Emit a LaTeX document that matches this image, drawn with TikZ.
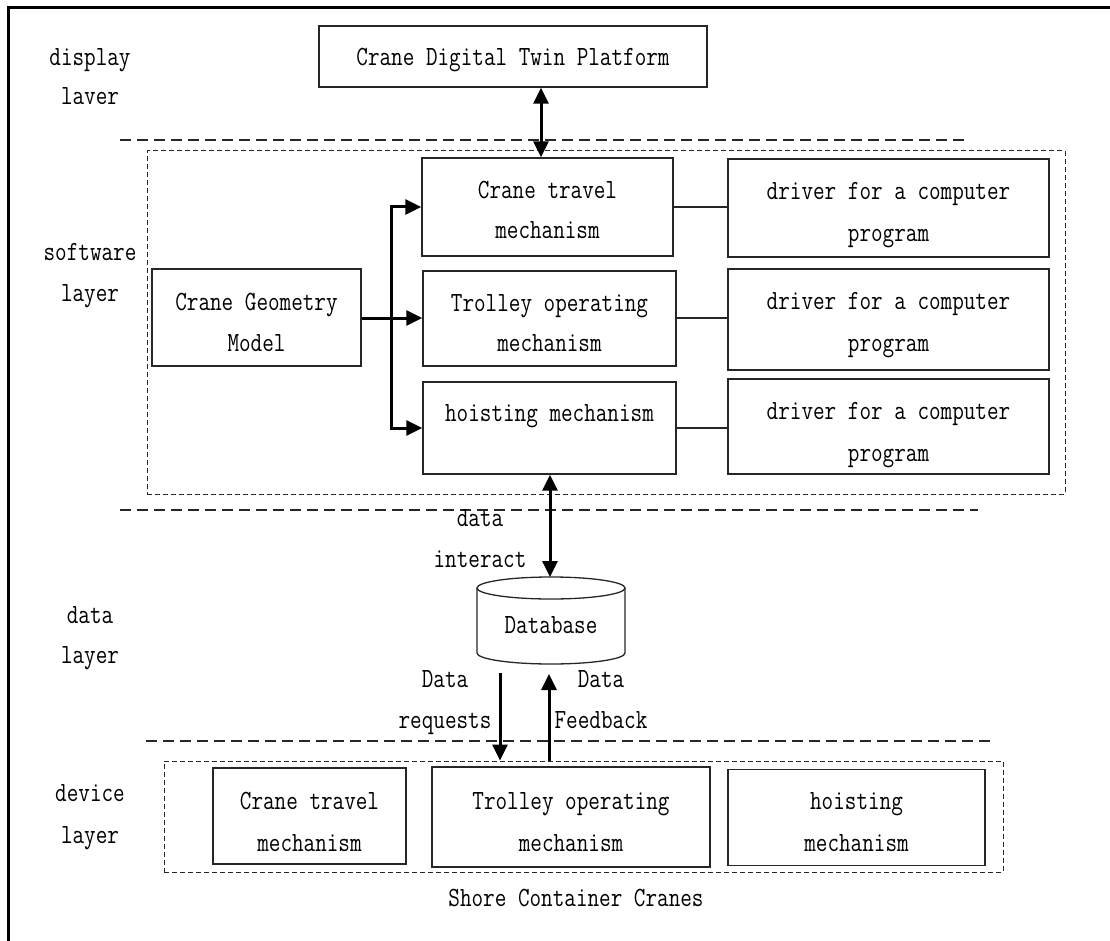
\documentclass[tikz,border=0pt]{standalone}
\usepackage{fontspec}
\setmonofont{Latin Modern Mono}[FakeStretch=0.81]
\usetikzlibrary{arrows.meta}
\begin{document}
\begin{tikzpicture}[x=1pt,y=-1pt,
  box/.style={draw=black!85, line width=1.4pt, rectangle, inner sep=0pt},
  grp/.style={draw=black!85, line width=1pt, dash pattern=on 5pt off 3pt, rectangle, inner sep=0pt},
  sep/.style={draw=black!85, line width=1.3pt, dash pattern=on 11pt off 6pt},
  txt/.style={anchor=base, inner sep=0pt, font=\ttfamily\fontsize{27.8}{30}\selectfont},
  link/.style={draw=black!85, line width=1.2pt},
  arr/.style={line width=3pt, -{Triangle[length=16pt,width=15pt]}},
  barr/.style={line width=3pt, {Triangle[length=16pt,width=15pt]}-{Triangle[length=16pt,width=15pt]}}
]
\useasboundingbox (0,0) rectangle (1110,941);
% outer frame
\draw[line width=2.4pt] (8.5,941) -- (8.5,7.5) -- (1110,7.5);

% separators
\draw[sep] (120,140) -- (967,140);
\draw[sep] (120,510) -- (978,510);
\draw[sep] (146,741) -- (992,741);

% groups
\node[grp, minimum width=918pt, minimum height=343pt] (swgrp) at (606,322.5) {};
\node[grp, minimum width=839pt, minimum height=111pt] (devgrp) at (583.5,816.5) {};

% layer labels
\node[txt] (lbdisp) at (90,66) {display};
\begin{scope}
\clip (30,80) rectangle (150,104);
\node[txt] (lbdisp2) at (90,105) {layer};
\end{scope}
\node[txt] (lbsw1) at (90,261) {software};
\node[txt] (lbsw2) at (90,301) {layer};
\node[txt] (lbdata1) at (90,623) {data};
\node[txt] (lbdata2) at (90,663) {layer};
\node[txt] (lbdev1) at (90,801) {device};
\node[txt] (lbdev2) at (90,843) {layer};

% top platform
\node[box, minimum width=388pt, minimum height=61pt] (plat) at (513,56.5) {};
\node[txt] (platt) at (513,66) {Crane Digital Twin Platform};

% software boxes
\node[box, minimum width=209pt, minimum height=97pt] (geo) at (256.5,317.5) {};
\node[txt] (geot1) at (256.5,310) {Crane Geometry};
\node[txt] (geot2) at (256.5,351) {Model};

\node[box, minimum width=251pt, minimum height=98pt] (ctm) at (547.5,207) {};
\node[txt] (ctmt1) at (547.5,199) {Crane travel};
\node[txt] (ctmt2) at (547.5,239) {mechanism};

\node[box, minimum width=253pt, minimum height=95pt] (tom) at (549.5,318.5) {};
\node[txt] (tomt1) at (549.5,311) {Trolley operating};
\node[txt] (tomt2) at (549.5,351) {mechanism};

\node[box, minimum width=253pt, minimum height=92pt] (hm) at (549.5,428) {};
\node[txt] (hmt) at (549.5,421) {hoisting mechanism};

\node[box, minimum width=321pt, minimum height=98pt] (drv1) at (888.5,208) {};
\node[txt] (drv1a) at (888.5,200) {driver for a computer};
\node[txt] (drv1b) at (888.5,241) {program};
\node[box, minimum width=321pt, minimum height=101pt] (drv2) at (888.5,319.5) {};
\node[txt] (drv2a) at (888.5,309) {driver for a computer};
\node[txt] (drv2b) at (888.5,351) {program};
\node[box, minimum width=321pt, minimum height=95pt] (drv3) at (888.5,426.5) {};
\node[txt] (drv3a) at (888.5,419) {driver for a computer};
\node[txt] (drv3b) at (888.5,461) {program};

\draw[link] (ctm.east |- 0,207) -- (drv1.west |- 0,207);
\draw[link] (tom.east |- 0,318) -- (drv2.west |- 0,318);
\draw[link] (hm.east |- 0,428) -- (drv3.west |- 0,428);

% fan-out arrows
\coordinate (jn) at (391,318);
\draw[arr] (geo.east |- jn) -- (tom.west |- jn);
\draw[arr] (jn) |- (ctm.west);
\draw[arr] (jn) |- (hm.west);

% platform <-> software
\draw[barr] (plat.south -| 541,0) -- (ctm.north -| 541,0);

% database
\coordinate (dbtop) at (551,577);
\coordinate (dbbot) at (551,664);
\draw[line width=1.3pt, draw=black!85] (551,588) ellipse [x radius=74, y radius=11];
\draw[line width=1.3pt, draw=black!85] (477,588) -- (477,653) arc[start angle=180, end angle=360, x radius=74, y radius=-11] -- (625,588);
\node[txt] (dbt) at (551,633) {Database};

\draw[barr] (hm.south -| 550,0) -- (dbtop -| 550,0);
\node[txt] (di1) at (480,526) {data};
\node[txt] (di2) at (480,567) {interact};

% data requests / feedback
\coordinate (reqtop) at (500,673);
\coordinate (fbtop) at (549,674);
\draw[arr] (reqtop) -- (devgrp.north -| reqtop);
\draw[arr] (devgrp.north -| fbtop) -- (fbtop);
\node[txt] (rq1) at (445,687) {Data};
\node[txt] (rq2) at (445,728) {requests};
\node[txt] (fb1) at (601,687) {Data};
\node[txt] (fb2) at (601,728) {Feedback};

% device boxes
\node[box, minimum width=193pt, minimum height=96pt] (dev1) at (309.5,816) {};
\node[txt] (dev1a) at (309.5,809) {Crane travel};
\node[txt] (dev1b) at (309.5,851) {mechanism};
\node[box, minimum width=278pt, minimum height=100pt] (dev2) at (571,817) {};
\node[txt] (dev2a) at (571,809) {Trolley operating};
\node[txt] (dev2b) at (571,851) {mechanism};
\node[box, minimum width=257pt, minimum height=96pt] (dev3) at (856.5,817.5) {};
\node[txt] (dev3a) at (856.5,809) {hoisting};
\node[txt] (dev3b) at (856.5,851) {mechanism};

\node[txt] (shore) at (576,906) {Shore Container Cranes};
\end{tikzpicture}
\end{document}
